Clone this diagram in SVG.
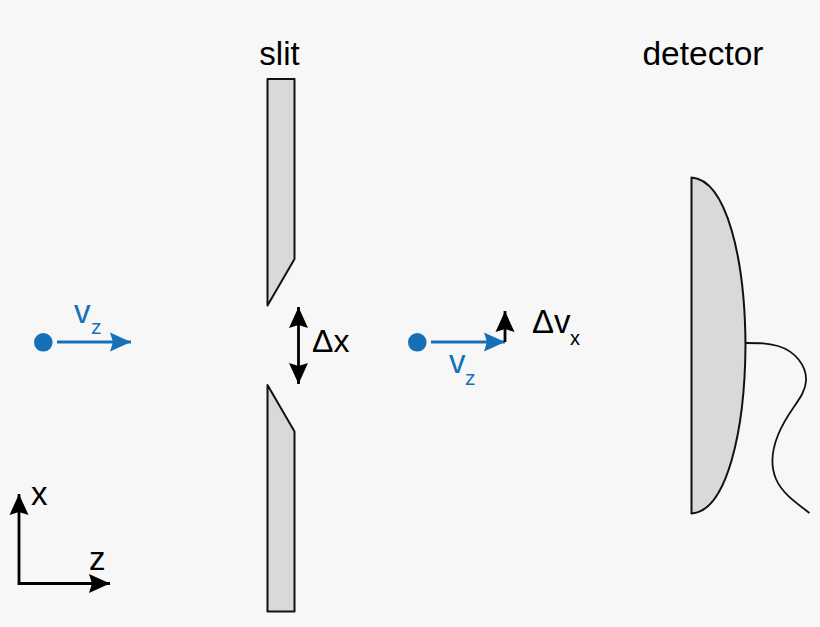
<svg xmlns="http://www.w3.org/2000/svg" width="820" height="627" viewBox="0 0 820 627">
<style>
text{font-family:"Liberation Sans",Arial,sans-serif;fill:#000}
.b{fill:#1670b8}
text.b{fill:#1670b8}
.shape{fill:#d9d9d9;stroke:#111;stroke-width:2;stroke-linejoin:round}
.k{stroke:#000;stroke-width:2.800;fill:none}
.u{stroke:#1670b8;stroke-width:2.800;fill:none}
</style>
<defs>
<marker id="ak" markerUnits="userSpaceOnUse" markerWidth="24" markerHeight="22" refX="21" refY="10" orient="auto-start-reverse"><path d="M0 0.500L21 10L0 19.500L3 10Z" fill="#000"/></marker>
<marker id="au" markerUnits="userSpaceOnUse" markerWidth="24" markerHeight="22" refX="21" refY="10" orient="auto"><path d="M0 0.500L21 10L0 19.500L3 10Z" fill="#1670b8"/></marker>
</defs>
<rect width="820" height="627" fill="#f7f7f7"/>
<g id="slit">
<path class="shape" d="M267.500 79H294.500V259L267.500 305.500Z"/>
<path class="shape" d="M267.500 385L294.500 431.500V611.500H267.500Z"/>
<text x="279.500" y="65" font-size="33" text-anchor="middle">slit</text>
</g>
<g id="detector">
<path class="shape" d="M691.500 177.500C727 180 745 260 745.500 345C745 430 727 511 691.500 513.500Z"/>
<text x="703" y="65" font-size="33.500" text-anchor="middle">detector</text>
</g>
<g id="particle-left">
<circle class="b" cx="43.300" cy="342.300" r="9.300"/>
<text class="b" x="74" y="323" font-size="33">v</text>
<text class="b" x="91" y="334" font-size="21">z</text>
</g>
<g id="particle-right">
<circle class="b" cx="417.300" cy="342.300" r="9.300"/>
<text class="b" x="449" y="373" font-size="33">v</text>
<text class="b" x="465" y="385" font-size="21">z</text>
</g>
<g id="delta-x"><text x="312" y="352" font-size="32">Δx</text></g>
<g id="delta-vx">
<text x="532" y="333" font-size="33">Δv</text>
<text x="570" y="345" font-size="20">x</text>
</g>
<g id="axes">
<text x="31" y="505" font-size="33">x</text>
<text x="89" y="570" font-size="33">z</text>
</g>
<g id="connectors">
<path class="u" d="M57 342H131" marker-end="url(#au)"/>
<path class="u" d="M431 342H505" marker-end="url(#au)"/>
<path class="k" d="M505 342V311" marker-end="url(#ak)"/>
<path class="k" d="M298.500 307V384" marker-start="url(#ak)" marker-end="url(#ak)"/>
<path class="k" d="M19 494V583.500H110" marker-start="url(#ak)" marker-end="url(#ak)"/>
<path d="M745.500 343C760 343 767 343 778 346C795 351 807 366 806 381C805 398 789 408 778 435C772 450 770 465 776 479C782 493 795 502 809.500 513" fill="none" stroke="#111" stroke-width="1.800"/>
</g>
</svg>
